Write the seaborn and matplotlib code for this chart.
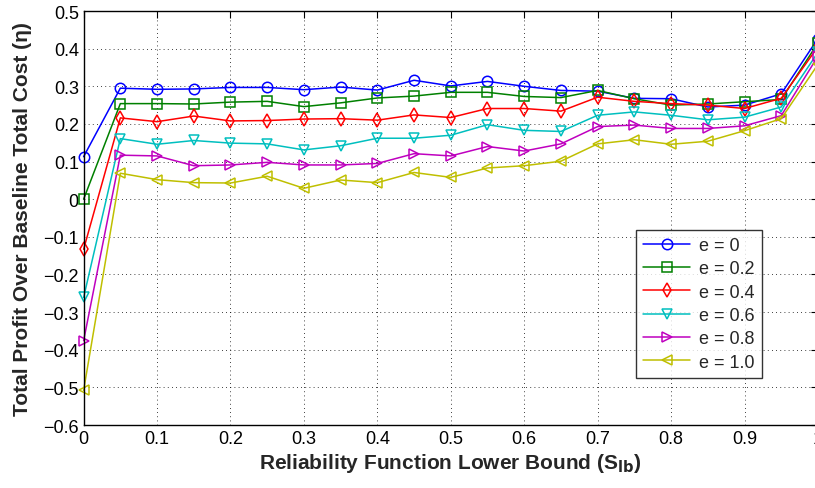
import numpy as np
import pandas as pd
import matplotlib
matplotlib.use('Agg')
import matplotlib.pyplot as plt
import seaborn as sns

# reliability lower bound values
s_lb = [0.0, 0.05, 0.1, 0.15, 0.2, 0.25, 0.3, 0.35, 0.4, 0.45, 0.5,
        0.55, 0.6, 0.65, 0.7, 0.75, 0.8, 0.85, 0.9, 0.95, 1.0]

eta_e00 = [0.113, 0.295, 0.292, 0.293, 0.297, 0.297, 0.291, 0.298, 0.290, 0.316, 0.301,
           0.313, 0.300, 0.289, 0.287, 0.268, 0.267, 0.245, 0.250, 0.280, 0.427]
eta_e02 = [0.000, 0.254, 0.254, 0.253, 0.258, 0.260, 0.246, 0.256, 0.269, 0.274, 0.284,
           0.284, 0.273, 0.270, 0.289, 0.267, 0.250, 0.253, 0.259, 0.265, 0.415]
eta_e04 = [-0.133, 0.216, 0.206, 0.221, 0.208, 0.209, 0.213, 0.214, 0.210, 0.224, 0.217,
           0.241, 0.241, 0.234, 0.271, 0.260, 0.254, 0.250, 0.241, 0.268, 0.405]
eta_e06 = [-0.261, 0.161, 0.146, 0.156, 0.149, 0.147, 0.131, 0.142, 0.162, 0.162, 0.170,
           0.198, 0.183, 0.180, 0.223, 0.232, 0.223, 0.211, 0.218, 0.245, 0.390]
eta_e08 = [-0.376, 0.117, 0.115, 0.089, 0.091, 0.098, 0.091, 0.091, 0.095, 0.121, 0.115,
           0.140, 0.128, 0.147, 0.193, 0.197, 0.188, 0.188, 0.195, 0.222, 0.380]
eta_e10 = [-0.508, 0.069, 0.052, 0.044, 0.043, 0.061, 0.029, 0.051, 0.044, 0.071, 0.058,
           0.083, 0.089, 0.101, 0.147, 0.158, 0.146, 0.154, 0.182, 0.214, 0.358]

labels = ['e = 0', 'e = 0.2', 'e = 0.4', 'e = 0.6', 'e = 0.8', 'e = 1.0']
series = [eta_e00, eta_e02, eta_e04, eta_e06, eta_e08, eta_e10]

colors = [(0, 0, 1), (0, 0.5, 0), (1, 0, 0), (0, 0.75, 0.75), (0.75, 0, 0.75), (0.75, 0.75, 0)]
markers = ['o', 's', 'd', 'v', '>', '<']

df = pd.concat([pd.DataFrame({'s_lb': s_lb, 'eta': vals, 'e': lab})
                for lab, vals in zip(labels, series)], ignore_index=True)

sns.set_style('white')
plt.rcParams['font.family'] = ['Liberation Sans', 'DejaVu Sans']

fig = plt.figure(figsize=(8.15, 4.89), dpi=100)
ax = fig.add_axes([0.1026, 0.1288, 0.901, 0.8466])

sns.lineplot(data=df, x='s_lb', y='eta', hue='e', style='e',
             palette=dict(zip(labels, colors)), markers=dict(zip(labels, markers)),
             dashes=False, linewidth=1.1, markersize=7.5, markeredgewidth=1.1,
             ax=ax, legend=True)

# open markers, edge in line colour, not clipped at the axes edge
for ln in ax.lines:
    ln.set_markerfacecolor('none')
    ln.set_markeredgecolor(ln.get_color())
    ln.set_clip_on(False)

ax.set_xlim(0, 1)
ax.set_ylim(-0.6, 0.5)
ax.set_xticks(np.arange(0, 1.01, 0.1))
ax.set_xticklabels(['0', '0.1', '0.2', '0.3', '0.4', '0.5', '0.6', '0.7', '0.8', '0.9', '1'])
yt = np.round(np.arange(-0.6, 0.51, 0.1), 1)
ax.set_yticks(yt)
ax.set_yticklabels(['0' if v == 0 else ('%.1f' % v).replace('-', '\u2212') for v in yt])
ax.tick_params(direction='in', length=5, width=0.8, labelsize=13, top=True, right=True,
               colors='black')
ax.grid(True, linestyle=(0, (1, 4)), color='black', linewidth=0.6)
for sp in ax.spines.values():
    sp.set_color('black')
    sp.set_linewidth(1.0)

ax.set_xlabel('Reliability Function Lower Bound (S$_{\\mathbf{lb}}$)', fontsize=15,
              fontweight='bold', labelpad=3)
ax.set_ylabel('Total Profit Over Baseline Total Cost (\u03b7)', fontsize=15,
              fontweight='bold', labelpad=8)

handles, hl = ax.get_legend_handles_labels()
for h in handles:
    h.set_markerfacecolor('none')
    h.set_markeredgecolor(h.get_color())
leg = ax.legend(handles, hl, loc='upper left', bbox_to_anchor=(0.74, 0.493),
                fontsize=13, frameon=True, fancybox=False, handlelength=2.6,
                borderpad=0.4, labelspacing=0.35, handletextpad=0.5)
leg.get_frame().set_edgecolor('black')
leg.get_frame().set_linewidth(1.0)

fig.savefig('out.png', dpi=100)
